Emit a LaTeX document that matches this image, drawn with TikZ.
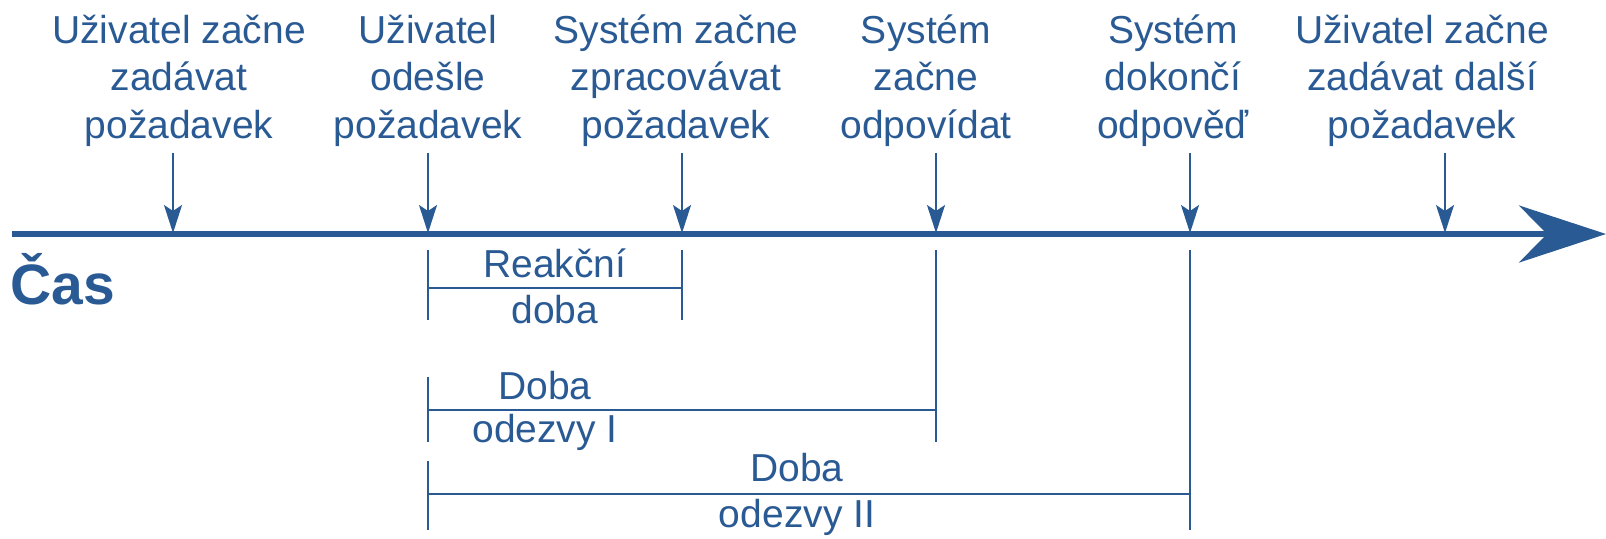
\documentclass[tikz,border=0pt]{standalone}
\usepackage{fontspec}
\setmainfont{Liberation Sans}
\usetikzlibrary{arrows.meta}
\definecolor{cblue}{RGB}{42,90,148}
\begin{document}
\begin{tikzpicture}[x=0.5pt,y=-0.5pt,
  lbl/.style={text=cblue, font=\fontsize{19.5}{23.75}\selectfont, align=center, inner sep=0pt, anchor=base},
  evarrow/.style={draw=cblue, line width=1pt, -{Stealth[length=14pt,width=9pt,inset=3pt]}},
  brk/.style={draw=cblue, line width=1pt},
  axis/.style={draw=cblue, line width=2.75pt, -{Stealth[length=43.5pt,width=28.5pt,inset=14pt]}}]
\useasboundingbox (0,0) rectangle (1606,538);
% axis
\coordinate (s) at (12,234);
\coordinate (e) at (1606,234);
\draw[axis] (s) -- (e);
\node[text=cblue, font=\bfseries\fontsize{28.5}{34}\selectfont, anchor=base west, inner sep=0pt] (cas) at (10,304) {Čas};
% event labels (anchored at the baseline of the last line)
\node[lbl] (e1) at (179,138) {Uživatel začne\\zadávat\\požadavek};
\node[lbl] (e2) at (428,138) {Uživatel\\odešle\\požadavek};
\node[lbl] (e3) at (676,138) {Systém začne\\zpracovávat\\požadavek};
\node[lbl] (e4) at (926,138) {Systém\\začne\\odpovídat};
\node[lbl] (e5) at (1173,138) {Systém\\dokončí\\odpověď};
\node[lbl] (e6) at (1422,138) {Uživatel začne\\zadávat další\\požadavek};
% event arrows
\foreach \i/\x in {1/173,2/428,3/682,4/936,5/1190,6/1445}{
  \coordinate (a\i) at (\x,153);
  \coordinate (t\i) at (\x,233);
  \draw[evarrow] (a\i) -- (t\i);
}
% Reakční doba
\coordinate (r1t) at (428,250); \coordinate (r1b) at (428,320);
\coordinate (r2t) at (682,250); \coordinate (r2b) at (682,320);
\coordinate (rl) at (428,288); \coordinate (rr) at (682,288);
\draw[brk] (r1t) -- (r1b);
\draw[brk] (r2t) -- (r2b);
\draw[brk] (rl) -- (rr);
\node[lbl] (ra) at (555,277) {Reakční};
\node[lbl] (rb) at (555,323) {doba};
% Doba odezvy I
\coordinate (o1t) at (428,377); \coordinate (o1b) at (428,442);
\coordinate (o2t) at (936,250); \coordinate (o2b) at (936,442);
\coordinate (ol) at (428,410); \coordinate (or) at (936,410);
\draw[brk] (o1t) -- (o1b);
\draw[brk] (o2t) -- (o2b);
\draw[brk] (ol) -- (or);
\node[lbl] (oa) at (545,399) {Doba};
\node[lbl] (ob) at (545,442) {odezvy I};
% Doba odezvy II
\coordinate (p1t) at (428,461); \coordinate (p1b) at (428,530);
\coordinate (p2t) at (1190,250); \coordinate (p2b) at (1190,530);
\coordinate (pl) at (428,494); \coordinate (pr) at (1190,494);
\draw[brk] (p1t) -- (p1b);
\draw[brk] (p2t) -- (p2b);
\draw[brk] (pl) -- (pr);
\node[lbl] (pa) at (797,481) {Doba};
\node[lbl] (pb) at (797,527) {odezvy II};
\end{tikzpicture}
\end{document}
